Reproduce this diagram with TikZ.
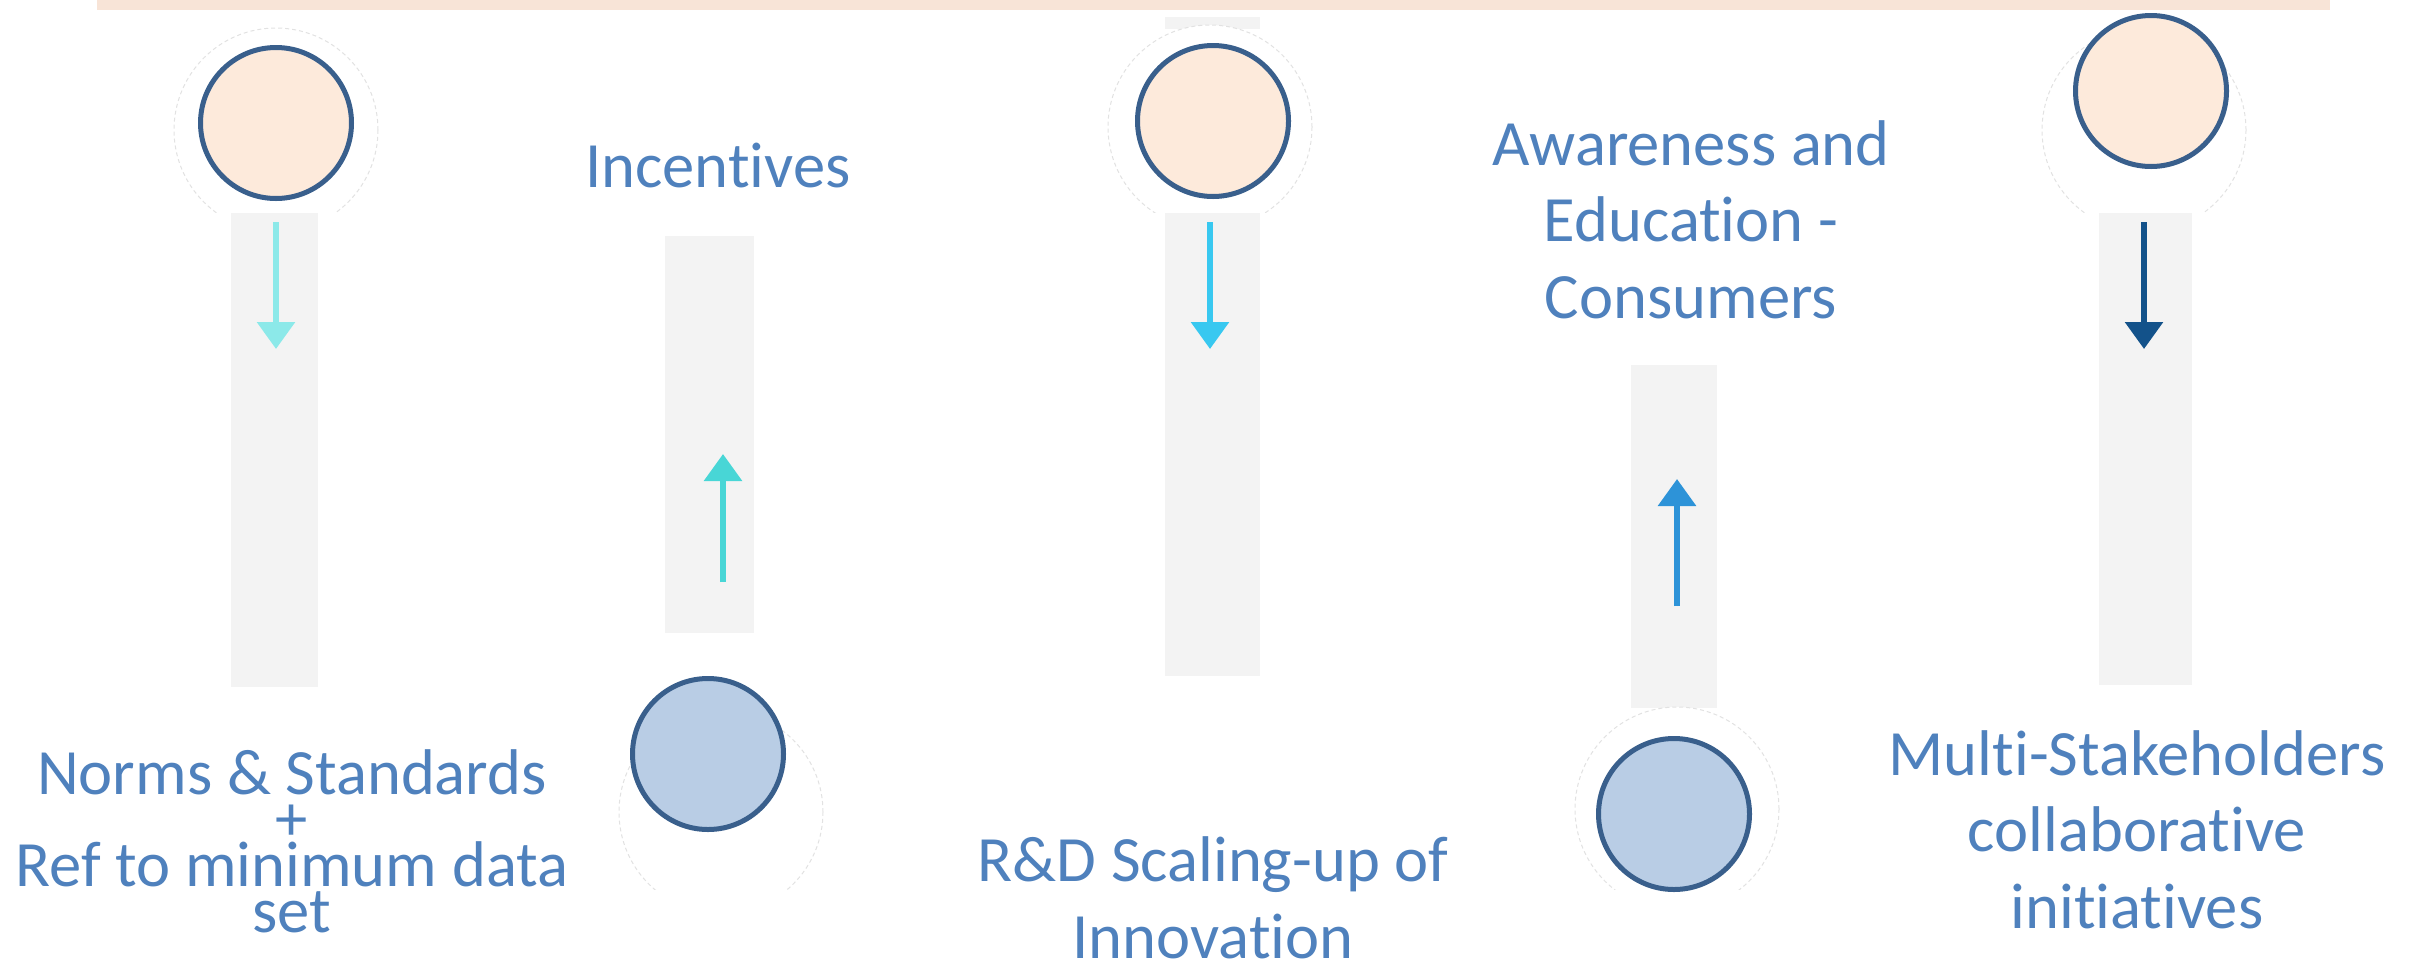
\documentclass[tikz,border=0pt]{standalone}
\usepackage{fontspec}
\setmainfont[Ligatures=NoCommon]{Carlito}
\usetikzlibrary{arrows.meta}
\definecolor{barpeach}{HTML}{F8E4D7}
\definecolor{colgray}{HTML}{F3F3F3}
\definecolor{ringblue}{HTML}{395F8C}
\definecolor{peachfill}{HTML}{FDEADB}
\definecolor{bluefill}{HTML}{B9CDE5}
\definecolor{ghostgray}{HTML}{E2E2E2}
\definecolor{txtblue}{HTML}{4F81BD}
\definecolor{arrA}{HTML}{8CE9E9}
\definecolor{arrB}{HTML}{48D6D6}
\definecolor{arrC}{HTML}{38C8F0}
\definecolor{arrD}{HTML}{2D93D8}
\definecolor{arrE}{HTML}{13528A}
\begin{document}
\begin{tikzpicture}[x=1pt,y=-1pt,
  column/.style={fill=colgray,draw=none},
  ghost/.style={circle,draw=ghostgray,fill=white,line width=1pt,dash pattern=on 4pt off 3pt,minimum size=204pt,inner sep=0pt},
  bubble/.style={circle,draw=ringblue,line width=5pt,minimum size=151pt,inner sep=0pt},
  topbub/.style={bubble,fill=peachfill},
  botbub/.style={bubble,fill=bluefill},
  flow/.style={line width=6pt,-{Triangle[width=37pt,length=27pt]}},
  lbl/.style={text=txtblue,align=center,inner sep=0pt,anchor=base,font=\fontsize{64.6pt}{76.5pt}\selectfont}
]
\useasboundingbox (0,0) rectangle (2432,959);
% top bar
\fill[barpeach] (97,0) rectangle (2330,10);
% grey columns
\fill[column] (231,212) rectangle (318,687);
\fill[column] (665,236) rectangle (754,633);
\fill[column] (1165,17) rectangle (1260,29);
\fill[column] (1165,212) rectangle (1260,676);
\fill[column] (1631,365) rectangle (1717,708);
\fill[column] (2099,212) rectangle (2192,685);
% ghost circles (top row)
\begin{scope}
  \clip (0,0) rectangle (2432,212);
  \node[ghost] (g1) at (276,130) {};
  \node[ghost] (g3) at (1210,127) {};
  \node[ghost] (g5) at (2144,130) {};
\end{scope}
% ghost circles (bottom row)
\begin{scope}
  \clip (0,700) rectangle (2432,889);
  \node[ghost] (g2) at (721,812) {};
  \node[ghost] (g4) at (1677,809) {};
\end{scope}
% bubbles
\node[topbub] (c1) at (276,123) {};
\node[topbub] (c3) at (1213,121) {};
\node[topbub] (c5) at (2151,91) {};
\node[botbub] (c2) at (708,754) {};
\node[botbub] (c4) at (1674,814) {};
% arrows
\coordinate (a1s) at (276,222); \coordinate (a1e) at (276,349);
\coordinate (a2s) at (723,582); \coordinate (a2e) at (723,454);
\coordinate (a3s) at (1210,222); \coordinate (a3e) at (1210,349);
\coordinate (a4s) at (1677,606); \coordinate (a4e) at (1677,479);
\coordinate (a5s) at (2144,222); \coordinate (a5e) at (2144,349);
\draw[flow,draw=arrA,fill=arrA] (a1s) -- (a1e);
\draw[flow,draw=arrB,fill=arrB] (a2s) -- (a2e);
\draw[flow,draw=arrC,fill=arrC] (a3s) -- (a3e);
\draw[flow,draw=arrD,fill=arrD] (a4s) -- (a4e);
\draw[flow,draw=arrE,fill=arrE] (a5s) -- (a5e);
% labels (base anchor = baseline of the last line)
\node[lbl,font=\fontsize{64.6pt}{45.7pt}\selectfont] (t1) at (292,932) {Norms \& Standards\\+\\Ref to minimum data\\set};
\node[lbl] (t2) at (718,187) {Incentives};
\node[lbl] (t3) at (1213,958) {R\&D Scaling-up of\\Innovation};
\node[lbl] (t4) at (1691,318) {Awareness and\\Education -\\Consumers};
\node[lbl] (t5) at (2137,928) {Multi-Stakeholders\\collaborative\\initiatives};
\end{tikzpicture}
\end{document}
